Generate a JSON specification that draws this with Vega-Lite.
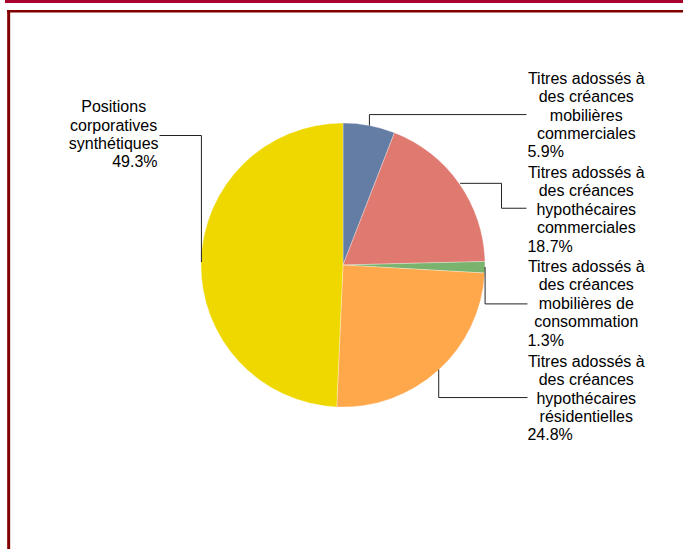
{
  "$schema": "https://vega.github.io/schema/vega-lite/v6.json",
  "width": 685,
  "height": 551,
  "autosize": {"type": "fit", "contains": "padding"},
  "padding": 0,
  "background": "white",
  "config": {"view": {"stroke": null}},
  "datasets": {
    "slices": [
      {"cat": "Titres adossés à des créances mobilières commerciales", "value": 5.9, "ord": 1},
      {"cat": "Titres adossés à des créances hypothécaires commerciales", "value": 18.7, "ord": 2},
      {"cat": "Titres adossés à des créances mobilières de consommation", "value": 1.3, "ord": 3},
      {"cat": "Titres adossés à des créances hypothécaires résidentielles", "value": 24.8, "ord": 4},
      {"cat": "Positions corporatives synthétiques", "value": 49.3, "ord": 5}
    ],
    "labels": [
      {"t": "Positions", "x": 114, "y": 107.5, "kind": "c"},
      {"t": "corporatives", "x": 114, "y": 126, "kind": "c"},
      {"t": "synthétiques", "x": 114, "y": 144.5, "kind": "c"},
      {"t": "49.3%", "x": 158, "y": 163, "kind": "r"},
      {"t": "Titres adossés à", "x": 588, "y": 79, "kind": "c"},
      {"t": "des créances", "x": 588, "y": 97.5, "kind": "c"},
      {"t": "mobilières", "x": 588, "y": 116, "kind": "c"},
      {"t": "commerciales", "x": 588, "y": 134.5, "kind": "c"},
      {"t": "5.9%", "x": 529, "y": 153, "kind": "l"},
      {"t": "Titres adossés à", "x": 588, "y": 173.5, "kind": "c"},
      {"t": "des créances", "x": 588, "y": 192, "kind": "c"},
      {"t": "hypothécaires", "x": 588, "y": 210.5, "kind": "c"},
      {"t": "commerciales", "x": 588, "y": 229, "kind": "c"},
      {"t": "18.7%", "x": 529, "y": 247.5, "kind": "l"},
      {"t": "Titres adossés à", "x": 588, "y": 268, "kind": "c"},
      {"t": "des créances", "x": 588, "y": 286.5, "kind": "c"},
      {"t": "mobilières de", "x": 588, "y": 305, "kind": "c"},
      {"t": "consommation", "x": 588, "y": 323.5, "kind": "c"},
      {"t": "1.3%", "x": 529, "y": 342, "kind": "l"},
      {"t": "Titres adossés à", "x": 588, "y": 363, "kind": "c"},
      {"t": "des créances", "x": 588, "y": 381.5, "kind": "c"},
      {"t": "hypothécaires", "x": 588, "y": 400, "kind": "c"},
      {"t": "résidentielles", "x": 588, "y": 418.5, "kind": "c"},
      {"t": "24.8%", "x": 529, "y": 437, "kind": "l"}
    ],
    "leaders": [
      {"id": 0, "k": 1, "x": 160, "y": 136},
      {"id": 0, "k": 2, "x": 202, "y": 136},
      {"id": 0, "k": 3, "x": 202, "y": 263},
      {"id": 1, "k": 1, "x": 528, "y": 115},
      {"id": 1, "k": 2, "x": 370.5, "y": 115},
      {"id": 1, "k": 3, "x": 370.5, "y": 126},
      {"id": 2, "k": 1, "x": 461.5, "y": 184},
      {"id": 2, "k": 2, "x": 503, "y": 184},
      {"id": 2, "k": 3, "x": 503, "y": 209},
      {"id": 2, "k": 4, "x": 528, "y": 209},
      {"id": 3, "k": 1, "x": 486.5, "y": 268},
      {"id": 3, "k": 2, "x": 486.5, "y": 305},
      {"id": 3, "k": 3, "x": 529, "y": 305},
      {"id": 4, "k": 1, "x": 440, "y": 371},
      {"id": 4, "k": 2, "x": 440, "y": 399},
      {"id": 4, "k": 3, "x": 529, "y": 399}
    ],
    "band": [{"x": 5, "x2": 685, "y": 1.5}],
    "frameTop": [{"x": 7, "x2": 685, "y": 11.3}],
    "frameLeft": [{"x": 8.7, "y": 10, "y2": 551}]
  },
  "layer": [
    {
      "data": {"name": "band"},
      "mark": {"type": "rule", "color": "#A8002F", "strokeWidth": 3, "strokeCap": "butt"},
      "encoding": {
        "x": {"field": "x", "type": "quantitative", "scale": {"domain": [0, 685], "nice": false, "zero": false}, "axis": null},
        "x2": {"field": "x2"},
        "y": {"field": "y", "type": "quantitative", "scale": {"domain": [0, 551], "nice": false, "zero": false, "reverse": true}, "axis": null}
      }
    },
    {
      "data": {"name": "frameTop"},
      "mark": {"type": "rule", "color": "#800000", "strokeWidth": 2.7, "strokeCap": "butt"},
      "encoding": {
        "x": {"field": "x", "type": "quantitative"},
        "x2": {"field": "x2"},
        "y": {"field": "y", "type": "quantitative"}
      }
    },
    {
      "data": {"name": "frameLeft"},
      "mark": {"type": "rule", "color": "#800000", "strokeWidth": 3, "strokeCap": "butt"},
      "encoding": {
        "x": {"field": "x", "type": "quantitative"},
        "y": {"field": "y", "type": "quantitative"},
        "y2": {"field": "y2"}
      }
    },
    {
      "data": {"name": "slices"},
      "mark": {"type": "arc", "radius": 142, "stroke": "white", "strokeWidth": 0.3},
      "encoding": {
        "theta": {"field": "value", "type": "quantitative", "stack": true},
        "order": {"field": "ord", "type": "quantitative"},
        "color": {
          "field": "cat", "type": "nominal", "legend": null,
          "scale": {
            "domain": [
              "Titres adossés à des créances mobilières commerciales",
              "Titres adossés à des créances hypothécaires commerciales",
              "Titres adossés à des créances mobilières de consommation",
              "Titres adossés à des créances hypothécaires résidentielles",
              "Positions corporatives synthétiques"
            ],
            "range": ["#647DA5", "#E07A70", "#7AB36E", "#FFA84B", "#EED800"]
          }
        },
        "x": {"datum": 344, "type": "quantitative"},
        "y": {"datum": 266, "type": "quantitative"}
      }
    },
    {
      "data": {"name": "leaders"},
      "mark": {"type": "line", "color": "#222222", "strokeWidth": 1, "strokeCap": "butt", "strokeJoin": "miter"},
      "encoding": {
        "x": {"field": "x", "type": "quantitative"},
        "y": {"field": "y", "type": "quantitative"},
        "detail": {"field": "id", "type": "nominal"},
        "order": {"field": "k", "type": "quantitative"}
      }
    },
    {
      "data": {"name": "labels"},
      "transform": [{"filter": "datum.kind === 'c'"}],
      "mark": {"type": "text", "align": "center", "baseline": "middle", "font": "Liberation Sans", "fontSize": 16, "color": "#000000"},
      "encoding": {
        "x": {"field": "x", "type": "quantitative"},
        "y": {"field": "y", "type": "quantitative"},
        "text": {"field": "t"}
      }
    },
    {
      "data": {"name": "labels"},
      "transform": [{"filter": "datum.kind === 'l'"}],
      "mark": {"type": "text", "align": "left", "baseline": "middle", "font": "Liberation Sans", "fontSize": 16, "color": "#000000"},
      "encoding": {
        "x": {"field": "x", "type": "quantitative"},
        "y": {"field": "y", "type": "quantitative"},
        "text": {"field": "t"}
      }
    },
    {
      "data": {"name": "labels"},
      "transform": [{"filter": "datum.kind === 'r'"}],
      "mark": {"type": "text", "align": "right", "baseline": "middle", "font": "Liberation Sans", "fontSize": 16, "color": "#000000"},
      "encoding": {
        "x": {"field": "x", "type": "quantitative"},
        "y": {"field": "y", "type": "quantitative"},
        "text": {"field": "t"}
      }
    }
  ]
}
